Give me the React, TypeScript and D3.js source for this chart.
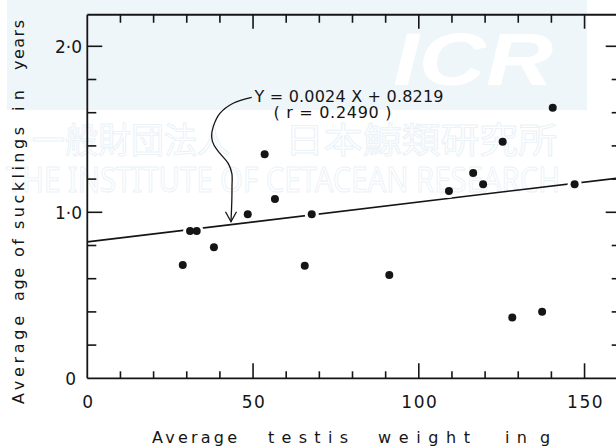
import React from 'react';
import * as d3 from 'd3';

// ---- data ----
const testisWeight = [28.8, 31.0, 33.0, 38.2, 48.4, 53.5, 56.6, 65.6, 67.7, 91.1, 109.1, 116.4, 119.4, 125.3, 128.2, 137.2, 140.4, 147.0];
const suckAge = [0.683, 0.887, 0.887, 0.789, 0.988, 1.349, 1.080, 0.678, 0.988, 0.622, 1.128, 1.237, 1.169, 1.425, 0.367, 0.401, 1.630, 1.169];
const slope = 0.0024;
const intercept = 0.8219;
const xTickValues = [0, 50, 100, 150];
const xTickLabels = ['0', '50', '100', '150'];
const yTickValues = [0, 1, 2];
const yTickLabels = ['0', '1·0', '2·0'];
const xMinorTicks = d3.range(10, 161, 10);
const yMinorTicks = [0.2, 0.4, 0.6, 0.8, 1.0, 1.2, 1.4, 1.6, 1.8, 2.0];
const equationText = 'Y = 0.0024 X + 0.8219';
const rText = '( r = 0.2490 )';
// arrow path in data units (x, y)
const arrowCurve: [number, number][] = [[49.6, 1.693], [44.0, 1.657], [40.0, 1.596], [38.0, 1.516], [37.5, 1.455], [38.2, 1.405], [40.0, 1.355], [42.5, 1.295], [43.6, 1.235], [43.65, 1.154], [43.6, 1.074], [43.35, 0.943]];
const xTitleWords = ['Average', 'testis', 'weight', 'in', 'g'];
const yTitleWords = ['Average', 'age', 'of', 'sucklings', 'in', 'years'];
const watermarkJa = ['一般財団法人', '日本鯨類研究所'];
const watermarkEn = 'THE INSTITUTE OF CETACEAN RESEARCH';
const watermarkLogo = 'ICR';

// ---- layout ----
const W = 616, H = 447;
const x = d3.scaleLinear().domain([0, 160]).range([87.3, 617.7]);
const y = d3.scaleLinear().domain([0, 2.19]).range([378.3, 378.3 - 2.19 * 166]);
const FONT = '"DejaVu Sans", Verdana, sans-serif';
const INK = '#151515';

// word extents (start, end) along axes
const xTitlePos = [[152, 237], [268, 348], [378, 470], [505, 527], [540, 557]];
const yTitlePos = [[404, 316], [301, 268], [257, 239], [229, 127], [111, 90], [70, 20]];

export default function App() {
  const x0 = x(0), x1 = x(160), yb = y(0), yt = y(2.19);
  const lineGen = d3.line<[number, number]>().x(d => x(d[0])).y(d => y(d[1])).curve(d3.curveCatmullRom.alpha(0.5));
  const tip = arrowCurve[arrowCurve.length - 1];
  const tx = x(tip[0]), ty = y(tip[1]);
  const regPts: [number, number][] = [[0, intercept], [160, intercept + slope * 160]];

  return (
    <svg width={W} height={H} style={{ position: 'absolute', left: 0, top: 0, background: '#fff' }}>
      <defs>
        <mask id="lineMask">
          <rect x={0} y={0} width={W} height={H} fill="#fff" />
          {testisWeight.map((v, i) => (
            <circle key={i} cx={x(v)} cy={y(suckAge[i])} r={7} fill="#000" />
          ))}
        </mask>
      </defs>
      <rect width={W} height={H} fill="#fff" />
      {/* watermark */}
      <rect x={7} y={0} width={580} height={110} fill="#eff6fa" />
      <text x={393} y={85} fontFamily='"Liberation Sans", Arial, sans-serif' fontWeight="bold" fontStyle="italic" fontSize={74} fill="#fff" textLength={160} lengthAdjust="spacingAndGlyphs">{watermarkLogo}</text>
      <g fill="none" stroke="#eaf2f8" strokeWidth={1}>
        <text x={32} y={153} fontFamily='"Noto Sans CJK JP", sans-serif' fontSize={35} textLength={198} lengthAdjust="spacingAndGlyphs">{watermarkJa[0]}</text>
        <text x={285} y={153} fontFamily='"Noto Sans CJK JP", sans-serif' fontSize={35} textLength={272} lengthAdjust="spacingAndGlyphs">{watermarkJa[1]}</text>
        <text x={6} y={192} fontFamily='"Noto Sans", sans-serif' fontSize={35} textLength={554} lengthAdjust="spacingAndGlyphs">{watermarkEn}</text>
      </g>

      {/* frame */}
      <g stroke={INK} strokeWidth={1.8} fill="none">
        <line x1={x0} y1={yt} x2={x0} y2={yb} />
        <line x1={x0} y1={yb} x2={x1} y2={yb} />
        <line x1={x0} y1={yt} x2={x1} y2={yt} />
        <line x1={x1} y1={yt} x2={x1} y2={yb} />
      </g>
      <g stroke={INK} strokeWidth={1.6}>
        {xMinorTicks.map(v => {
          const major = v % 50 === 0;
          return (
            <g key={'xt' + v}>
              <line x1={x(v)} x2={x(v)} y1={yb} y2={yb - (major ? 15 : 7)} />
              <line x1={x(v)} x2={x(v)} y1={yt} y2={yt + (major ? 14 : 8)} />
            </g>
          );
        })}
        {yMinorTicks.map(v => {
          const major = Math.abs(v - 1) < 1e-6 || Math.abs(v - 2) < 1e-6;
          return (
            <g key={'yt' + v}>
              <line x1={x0} x2={x0 + (major ? 15 : 9)} y1={y(v)} y2={y(v)} />
              <line x1={x1} x2={x1 - (major ? 12 : 6)} y1={y(v)} y2={y(v)} />
            </g>
          );
        })}
      </g>

      {/* tick labels */}
      <g fontFamily={FONT} fontSize={17} fill={INK}>
        {xTickValues.map((v, i) => (
          <text key={'xl' + v} x={x(v) + 1} y={408} textAnchor="middle" letterSpacing={1.5}>{xTickLabels[i]}</text>
        ))}
        {yTickValues.map((v, i) => (
          <text key={'yl' + v} x={v === 0 ? 76 : 82} y={y(v) + 6.5} textAnchor="end">{yTickLabels[i]}</text>
        ))}
      </g>

      {/* axis titles */}
      <g fontFamily={FONT} fontSize={16} fill={INK}>
        {xTitleWords.map((w, i) => (
          <text key={'xw' + i} x={xTitlePos[i][0]} y={443} textLength={xTitlePos[i][1] - xTitlePos[i][0]} lengthAdjust="spacing">{w}</text>
        ))}
        {yTitleWords.map((w, i) => (
          <text key={'yw' + i} transform={`translate(23.5,${yTitlePos[i][0]}) rotate(-90)`} textLength={yTitlePos[i][0] - yTitlePos[i][1]} lengthAdjust="spacing">{w}</text>
        ))}
      </g>

      {/* regression line */}
      <path d={d3.line<[number, number]>().x(d => x(d[0])).y(d => y(d[1]))(regPts) || ''} stroke={INK} strokeWidth={1.6} fill="none" mask="url(#lineMask)" />

      {/* points */}
      <g fill={INK}>
        {testisWeight.map((v, i) => (
          <circle key={'p' + i} cx={x(v)} cy={y(suckAge[i])} r={4} />
        ))}
      </g>

      {/* annotation */}
      <path d={lineGen(arrowCurve) || ''} stroke={INK} strokeWidth={1.3} fill="none" />
      <path d={`M${tx - 5.5},${ty - 10}L${tx},${ty}L${tx + 5.5},${ty - 10}`} stroke={INK} strokeWidth={1.3} fill="none" />
      <g fontFamily={FONT} fontSize={16} fill={INK}>
        <text x={254.5} y={101.7} textLength={189} lengthAdjust="spacing">{equationText}</text>
        <text x={273.5} y={117.5} textLength={118} lengthAdjust="spacing">{rText}</text>
      </g>
    </svg>
  );
}
